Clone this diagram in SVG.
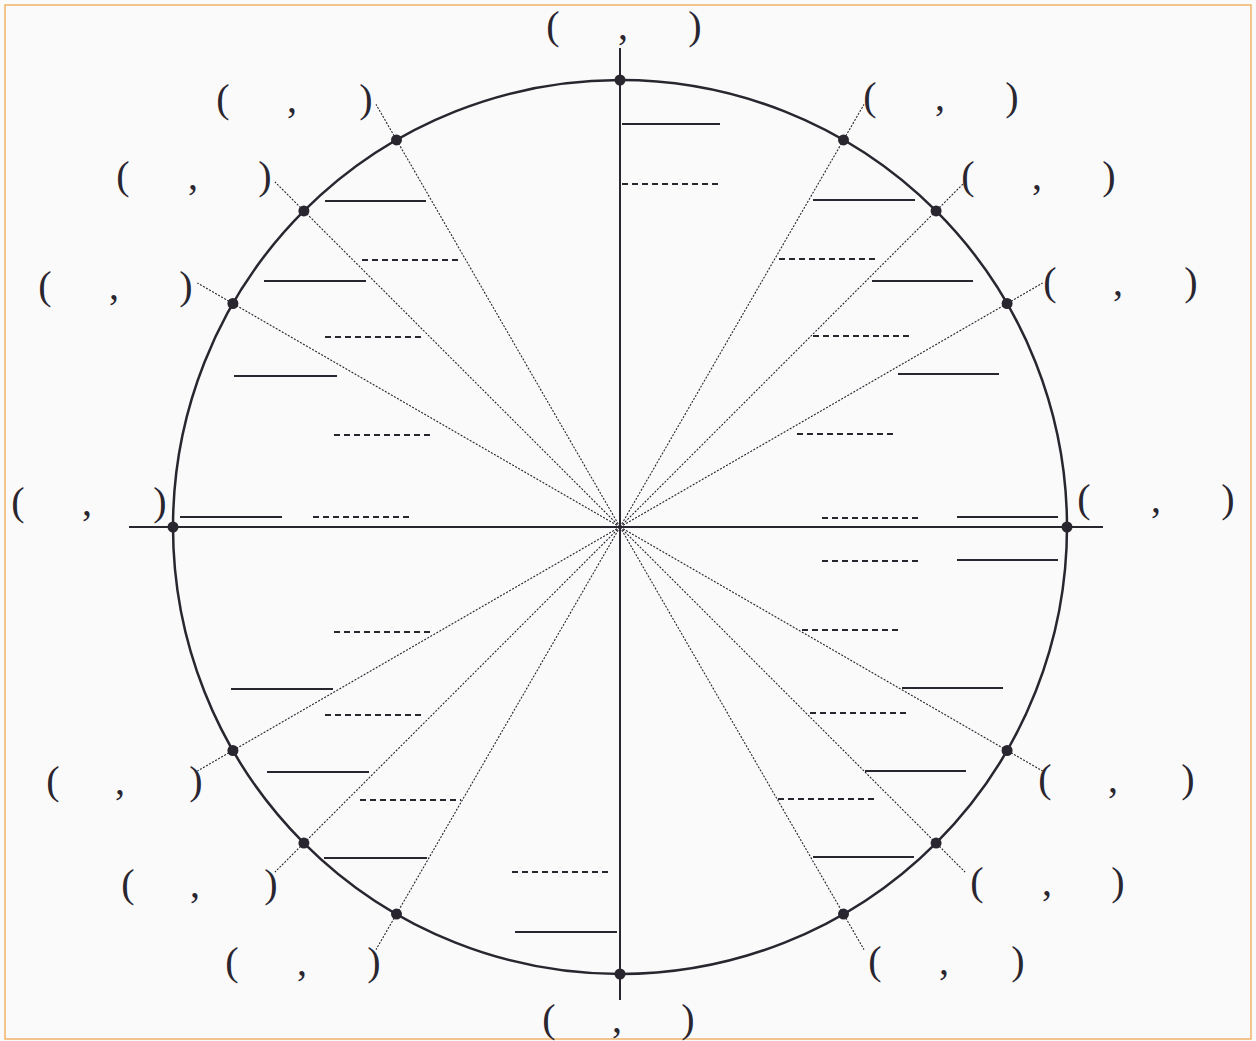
<svg xmlns="http://www.w3.org/2000/svg" width="1256" height="1041" viewBox="0 0 1256 1041">
<style>
.bg{fill:#fafafa}
.frame{fill:none;stroke:#f2b26a;stroke-width:1.5}
.circ{fill:none;stroke:#2a2630;stroke-width:2.5}
.axis{stroke:#2a2630;stroke-width:2}
.ray{stroke:#2a2630;stroke-width:1.1;stroke-dasharray:2 1.5}
.dot{fill:#2a2630}
.solid{stroke:#2a2630;stroke-width:2.2}
.dash{stroke:#2a2630;stroke-width:2.2;stroke-dasharray:6 4}
text{font-family:"Liberation Serif","Times New Roman",serif;font-size:40px;fill:#2a2630;text-anchor:middle}
</style>
<rect class="bg" x="0" y="0" width="1256" height="1041"/>
<rect class="frame" x="5" y="5" width="1246" height="1034"/>
<g id="circle">
<circle class="circ" cx="620" cy="527" r="447"/>
</g>
<g id="connectors">
<line class="axis" x1="129" y1="527" x2="1103" y2="527"/>
<line class="axis" x1="620" y1="48" x2="620" y2="1000"/>
<line class="ray" x1="620" y1="527" x2="1042.6" y2="283"/>
<line class="ray" x1="620" y1="527" x2="965.1" y2="181.9"/>
<line class="ray" x1="620" y1="527" x2="864" y2="104.4"/>
<line class="ray" x1="620" y1="527" x2="376" y2="104.4"/>
<line class="ray" x1="620" y1="527" x2="274.9" y2="181.9"/>
<line class="ray" x1="620" y1="527" x2="197.4" y2="283"/>
<line class="ray" x1="620" y1="527" x2="197.4" y2="771"/>
<line class="ray" x1="620" y1="527" x2="274.9" y2="872.1"/>
<line class="ray" x1="620" y1="527" x2="376" y2="949.6"/>
<line class="ray" x1="620" y1="527" x2="864" y2="949.6"/>
<line class="ray" x1="620" y1="527" x2="965.1" y2="872.1"/>
<line class="ray" x1="620" y1="527" x2="1042.6" y2="771"/>
</g>
<g id="points">
<circle class="dot" cx="1067" cy="527" r="5.5"/>
<circle class="dot" cx="1007.1" cy="303.5" r="5.5"/>
<circle class="dot" cx="936.1" cy="210.9" r="5.5"/>
<circle class="dot" cx="843.5" cy="139.9" r="5.5"/>
<circle class="dot" cx="620" cy="80" r="5.5"/>
<circle class="dot" cx="396.5" cy="139.9" r="5.5"/>
<circle class="dot" cx="303.9" cy="210.9" r="5.5"/>
<circle class="dot" cx="232.9" cy="303.5" r="5.5"/>
<circle class="dot" cx="173" cy="527" r="5.5"/>
<circle class="dot" cx="232.9" cy="750.5" r="5.5"/>
<circle class="dot" cx="303.9" cy="843.1" r="5.5"/>
<circle class="dot" cx="396.5" cy="914.1" r="5.5"/>
<circle class="dot" cx="620" cy="974" r="5.5"/>
<circle class="dot" cx="843.5" cy="914.1" r="5.5"/>
<circle class="dot" cx="936.1" cy="843.1" r="5.5"/>
<circle class="dot" cx="1007.1" cy="750.5" r="5.5"/>
</g>
<g id="blanks">
<line class="solid" x1="622" y1="124" x2="720" y2="124"/>
<line class="dash" x1="622" y1="184" x2="720" y2="184"/>
<line class="solid" x1="325" y1="201" x2="426" y2="201"/>
<line class="dash" x1="362" y1="260" x2="462" y2="260"/>
<line class="solid" x1="264" y1="281" x2="366" y2="281"/>
<line class="dash" x1="325" y1="337" x2="425" y2="337"/>
<line class="solid" x1="234" y1="376" x2="337" y2="376"/>
<line class="dash" x1="334" y1="435" x2="434" y2="435"/>
<line class="solid" x1="180" y1="517" x2="282" y2="517"/>
<line class="dash" x1="313" y1="517" x2="413" y2="517"/>
<line class="solid" x1="813" y1="200" x2="915" y2="200"/>
<line class="dash" x1="779" y1="259" x2="879" y2="259"/>
<line class="solid" x1="872" y1="281" x2="973" y2="281"/>
<line class="dash" x1="813" y1="336" x2="913" y2="336"/>
<line class="solid" x1="898" y1="374" x2="999" y2="374"/>
<line class="dash" x1="797" y1="434" x2="897" y2="434"/>
<line class="dash" x1="822" y1="518" x2="922" y2="518"/>
<line class="solid" x1="957" y1="517" x2="1058" y2="517"/>
<line class="dash" x1="822" y1="561" x2="922" y2="561"/>
<line class="solid" x1="957" y1="560" x2="1058" y2="560"/>
<line class="dash" x1="334" y1="632" x2="434" y2="632"/>
<line class="solid" x1="231" y1="689" x2="333" y2="689"/>
<line class="dash" x1="325" y1="715" x2="425" y2="715"/>
<line class="solid" x1="267" y1="772" x2="369" y2="772"/>
<line class="dash" x1="360" y1="800" x2="461" y2="800"/>
<line class="solid" x1="324" y1="858" x2="427" y2="858"/>
<line class="dash" x1="512" y1="872" x2="612" y2="872"/>
<line class="solid" x1="515" y1="932" x2="617" y2="932"/>
<line class="dash" x1="802" y1="630" x2="902" y2="630"/>
<line class="solid" x1="902" y1="688" x2="1003" y2="688"/>
<line class="dash" x1="810" y1="713" x2="910" y2="713"/>
<line class="solid" x1="865" y1="771" x2="966" y2="771"/>
<line class="dash" x1="778" y1="799" x2="878" y2="799"/>
<line class="solid" x1="813" y1="857" x2="914" y2="857"/>
</g>
<g id="label-90"><text x="553" y="39">(</text><text x="623" y="39">,</text><text x="695" y="39">)</text></g>
<g id="label-120"><text x="223" y="112">(</text><text x="292" y="112">,</text><text x="366" y="112">)</text></g>
<g id="label-135"><text x="123" y="189">(</text><text x="193" y="189">,</text><text x="265" y="189">)</text></g>
<g id="label-150"><text x="45" y="299">(</text><text x="114" y="299">,</text><text x="186" y="299">)</text></g>
<g id="label-180"><text x="18" y="515">(</text><text x="87" y="515">,</text><text x="160" y="515">)</text></g>
<g id="label-210"><text x="53" y="794">(</text><text x="120" y="794">,</text><text x="196" y="794">)</text></g>
<g id="label-225"><text x="128" y="897">(</text><text x="195" y="897">,</text><text x="271" y="897">)</text></g>
<g id="label-240"><text x="232" y="975">(</text><text x="302" y="975">,</text><text x="374" y="975">)</text></g>
<g id="label-270"><text x="549" y="1032">(</text><text x="617" y="1032">,</text><text x="688" y="1032">)</text></g>
<g id="label-300"><text x="875" y="974">(</text><text x="944" y="974">,</text><text x="1018" y="974">)</text></g>
<g id="label-315"><text x="977" y="895">(</text><text x="1047" y="895">,</text><text x="1118" y="895">)</text></g>
<g id="label-330"><text x="1045" y="792">(</text><text x="1113" y="792">,</text><text x="1188" y="792">)</text></g>
<g id="label-0"><text x="1084" y="512">(</text><text x="1156" y="512">,</text><text x="1228" y="512">)</text></g>
<g id="label-30"><text x="1050" y="295">(</text><text x="1118" y="295">,</text><text x="1191" y="295">)</text></g>
<g id="label-45"><text x="968" y="189">(</text><text x="1037" y="189">,</text><text x="1109" y="189">)</text></g>
<g id="label-60"><text x="870" y="110">(</text><text x="940" y="110">,</text><text x="1012" y="110">)</text></g>
</svg>
